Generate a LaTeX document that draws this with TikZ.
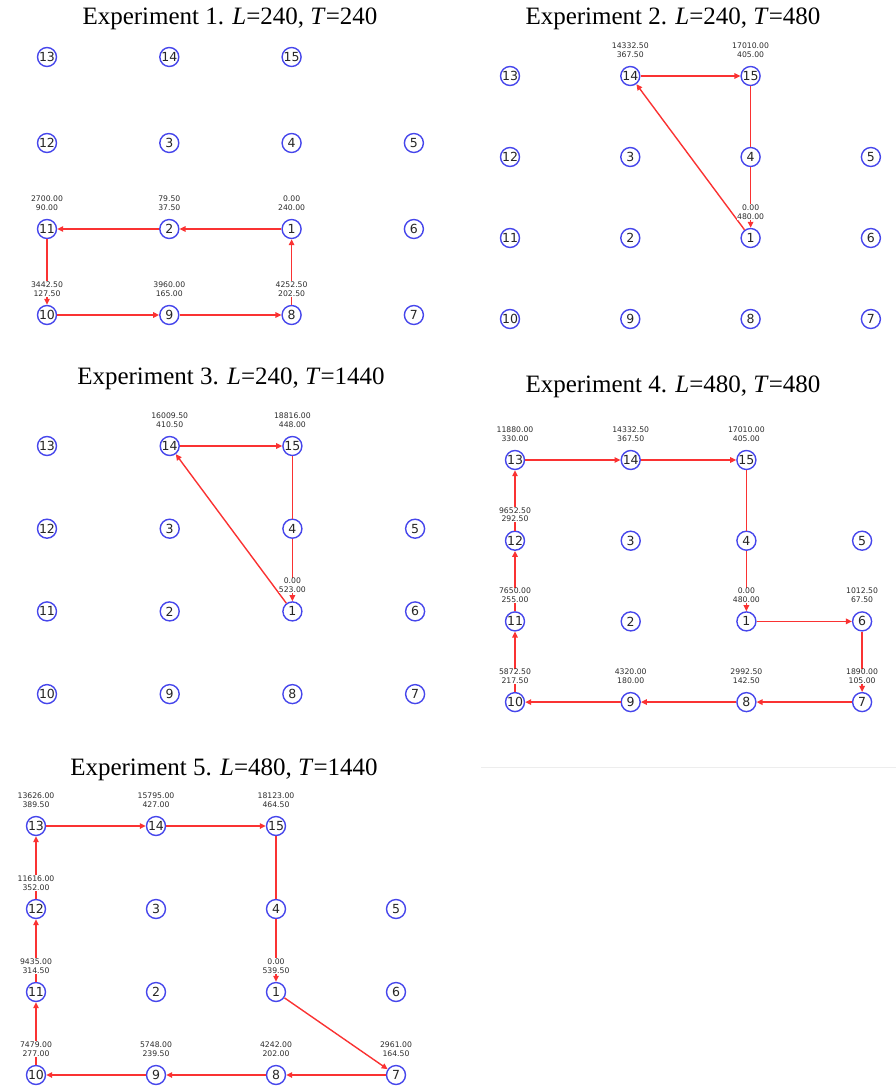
\documentclass[tikz,border=0pt]{standalone}
\usepackage{fontspec}
\setmainfont{Liberation Serif}
\newfontfamily\djv{DejaVu Sans}
\usetikzlibrary{arrows.meta}
\definecolor{vblue}{RGB}{70,70,235}
\definecolor{ered}{RGB}{250,50,50}
\definecolor{ltext}{RGB}{45,45,45}
\tikzset{
 vert/.style={circle,draw=vblue,line width=1.4pt,minimum size=19pt,inner sep=0pt,text=black!85,font=\djv\fontsize{12.5}{13}\selectfont},
 lab/.style={fill=white,inner sep=0.4pt,align=center,text=ltext,font=\djv\fontsize{7.7}{8.5}\selectfont},
 ttl/.style={anchor=base,inner sep=0pt,font=\fontsize{25}{28}\selectfont},
 arr/.style={draw=ered,line width=1.4pt,-{Triangle[length=6pt,width=5.5pt]}},
 seg/.style={draw=ered,line width=1.4pt},
}
\newcommand{\gridpanel}[5]{%
 \foreach \n/\c/\r in {13/0/0,14/1/0,15/2/0,12/0/1,3/1/1,4/2/1,5/3/1,11/0/2,2/1/2,1/2/2,6/3/2,10/0/3,9/1/3,8/2/3,7/3/3}
 {\node[vert] (#1-\n) at ({#2+\c*#4},{#3+\r*#5}) {\n};}
}
\newcommand{\vlab}[3]{\node[lab] (#1-#2-lab) at ([yshift=26pt]#1-#2.center) {#3};}
\begin{document}
\begin{tikzpicture}[x=1pt,y=-1pt]
\useasboundingbox (0,0) rectangle (896,1089);
% titles
\node[ttl] (t1) at (230,25) {Experiment 1. \textit{L}=240, \textit{T}=240};
\node[ttl] (t2) at (673,25) {Experiment 2. \textit{L}=240, \textit{T}=480};
\node[ttl] (t3) at (231,384) {Experiment 3. \textit{L}=240, \textit{T}=1440};
\node[ttl] (t4) at (673,392) {Experiment 4. \textit{L}=480, \textit{T}=480};
\node[ttl] (t5) at (224,775) {Experiment 5. \textit{L}=480, \textit{T}=1440};
% faint separator
\coordinate (sepa) at (481,767);
\coordinate (sepb) at (896,767);
\draw[black!7,line width=1pt] (sepa) -- (sepb);
% grids
\gridpanel{p1}{47}{57}{122.3}{86}
\gridpanel{p2}{510}{76}{120.3}{81}
\gridpanel{p3}{47}{446}{122.7}{82.7}
\gridpanel{p4}{515}{460}{115.7}{80.7}
\gridpanel{p5}{36}{826}{120}{83}
% edges panel 1
\draw[arr] (p1-1) -- (p1-2);
\draw[arr] (p1-2) -- (p1-11);
\draw[arr] (p1-11) -- (p1-10);
\draw[arr] (p1-10) -- (p1-9);
\draw[arr] (p1-9) -- (p1-8);
\draw[arr] (p1-8) -- (p1-1);
% edges panel 2
\draw[arr] (p2-4) -- (p2-1);
\draw[arr] (p2-1) -- (p2-14);
\draw[arr] (p2-14) -- (p2-15);
\draw[seg] (p2-15) -- (p2-4);
% edges panel 3
\draw[arr] (p3-4) -- (p3-1);
\draw[arr] (p3-1) -- (p3-14);
\draw[arr] (p3-14) -- (p3-15);
\draw[seg] (p3-15) -- (p3-4);
% edges panel 4
\draw[arr] (p4-4) -- (p4-1);
\draw[arr] (p4-1) -- (p4-6);
\draw[arr] (p4-6) -- (p4-7);
\draw[arr] (p4-7) -- (p4-8);
\draw[arr] (p4-8) -- (p4-9);
\draw[arr] (p4-9) -- (p4-10);
\draw[arr] (p4-10) -- (p4-11);
\draw[arr] (p4-11) -- (p4-12);
\draw[arr] (p4-12) -- (p4-13);
\draw[arr] (p4-13) -- (p4-14);
\draw[arr] (p4-14) -- (p4-15);
\draw[seg] (p4-15) -- (p4-4);
% edges panel 5
\draw[arr] (p5-4) -- (p5-1);
\draw[arr] (p5-1) -- (p5-7);
\draw[arr] (p5-7) -- (p5-8);
\draw[arr] (p5-8) -- (p5-9);
\draw[arr] (p5-9) -- (p5-10);
\draw[arr] (p5-10) -- (p5-11);
\draw[arr] (p5-11) -- (p5-12);
\draw[arr] (p5-12) -- (p5-13);
\draw[arr] (p5-13) -- (p5-14);
\draw[arr] (p5-14) -- (p5-15);
\draw[seg] (p5-15) -- (p5-4);
% labels panel 1
\vlab{p1}{11}{2700.00\\90.00}
\vlab{p1}{2}{79.50\\37.50}
\vlab{p1}{1}{0.00\\240.00}
\vlab{p1}{10}{3442.50\\127.50}
\vlab{p1}{9}{3960.00\\165.00}
\vlab{p1}{8}{4252.50\\202.50}
% labels panel 2
\vlab{p2}{14}{14332.50\\367.50}
\vlab{p2}{15}{17010.00\\405.00}
\vlab{p2}{1}{0.00\\480.00}
% labels panel 3
\vlab{p3}{14}{16009.50\\410.50}
\vlab{p3}{15}{18816.00\\448.00}
\vlab{p3}{1}{0.00\\523.00}
% labels panel 4
\vlab{p4}{13}{11880.00\\330.00}
\vlab{p4}{14}{14332.50\\367.50}
\vlab{p4}{15}{17010.00\\405.00}
\vlab{p4}{12}{9652.50\\292.50}
\vlab{p4}{11}{7650.00\\255.00}
\vlab{p4}{1}{0.00\\480.00}
\vlab{p4}{6}{1012.50\\67.50}
\vlab{p4}{10}{5872.50\\217.50}
\vlab{p4}{9}{4320.00\\180.00}
\vlab{p4}{8}{2992.50\\142.50}
\vlab{p4}{7}{1890.00\\105.00}
% labels panel 5
\vlab{p5}{13}{13626.00\\389.50}
\vlab{p5}{14}{15795.00\\427.00}
\vlab{p5}{15}{18123.00\\464.50}
\vlab{p5}{12}{11616.00\\352.00}
\vlab{p5}{11}{9435.00\\314.50}
\vlab{p5}{1}{0.00\\539.50}
\vlab{p5}{10}{7479.00\\277.00}
\vlab{p5}{9}{5748.00\\239.50}
\vlab{p5}{8}{4242.00\\202.00}
\vlab{p5}{7}{2961.00\\164.50}
\end{tikzpicture}
\end{document}
